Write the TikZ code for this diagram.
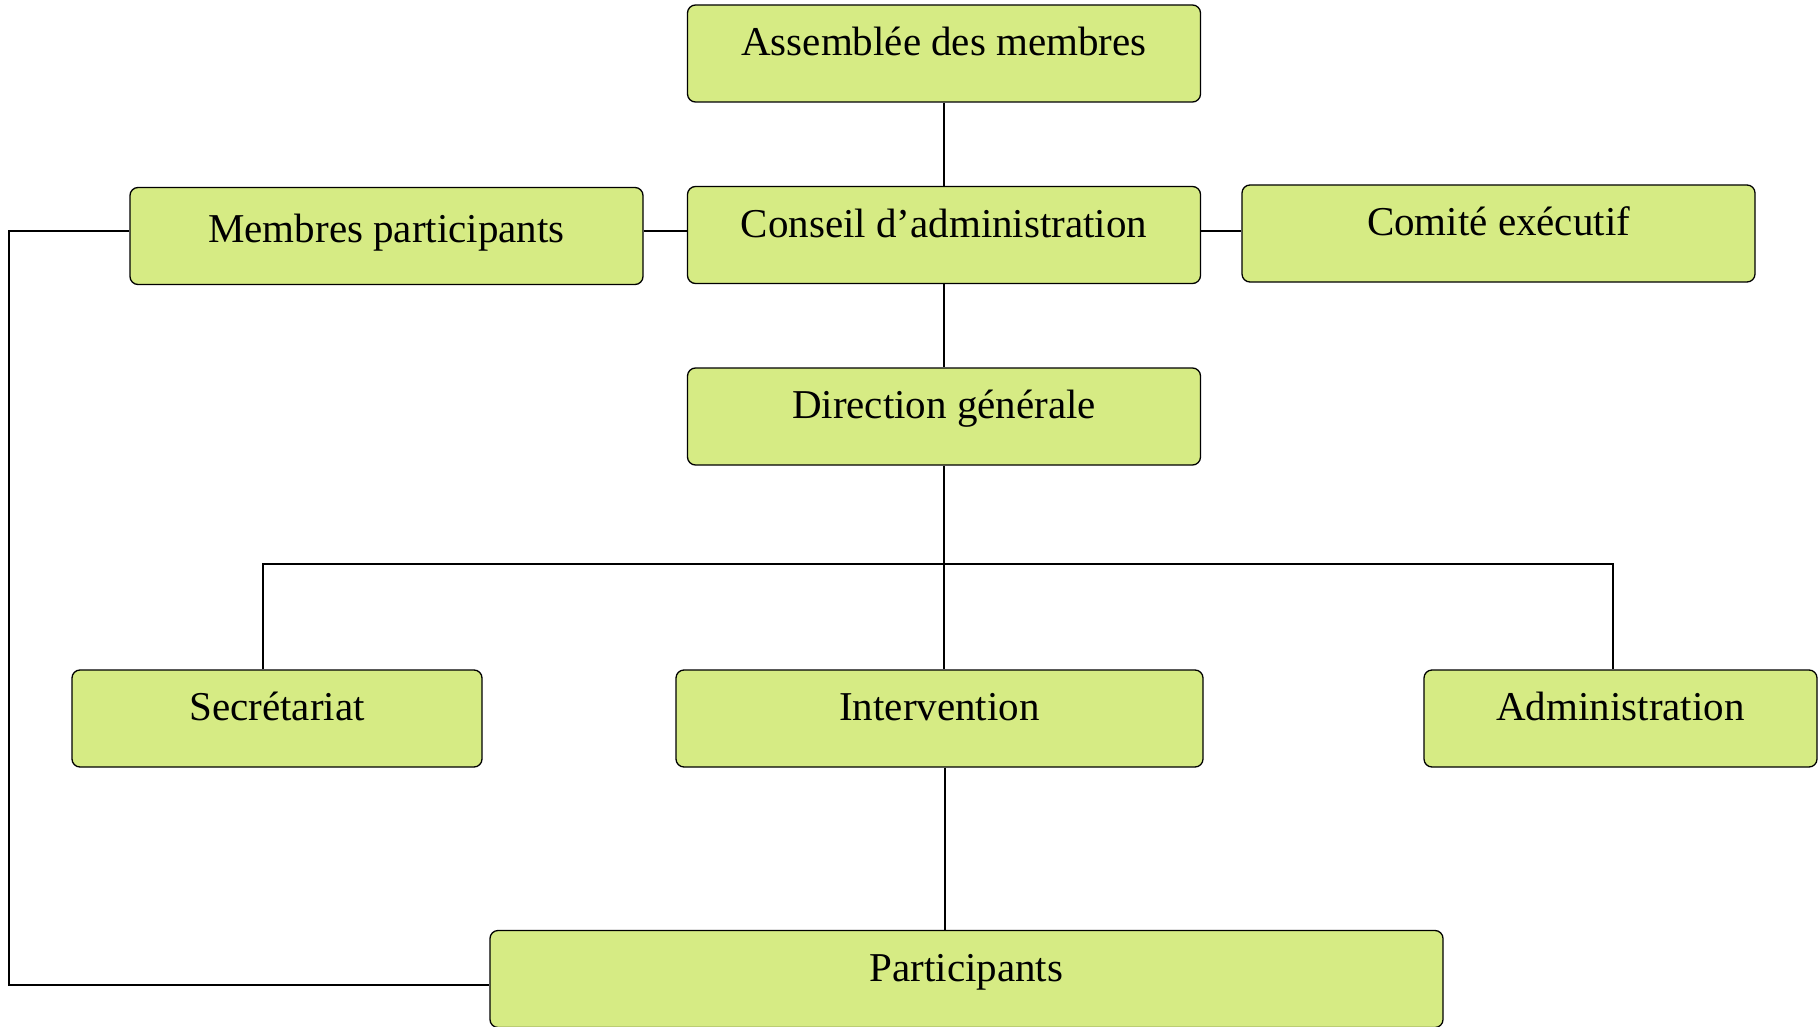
\documentclass[tikz,border=0pt]{standalone}
\usepackage{fontspec}
\setmainfont{Liberation Serif}
\definecolor{boxgreen}{RGB}{214,235,132}

\begin{document}
\begin{tikzpicture}[x=1pt,y=-1pt,
  box/.style={draw, line width=1.3pt, rounded corners=8pt, fill=boxgreen,
    minimum height=97pt, inner sep=0pt, text height=20pt, text depth=16pt,
    font=\fontsize{41}{46}\selectfont},
  link/.style={line width=1.8pt}]
\useasboundingbox (0,0) rectangle (1820,1027);

\node[box, minimum width=513pt] (assemblee) at (944,53.5) {Assemblée des membres};
\node[box, minimum width=513pt] (conseil) at (944,235) {Conseil d’administration};
\node[box, minimum width=513pt, text height=24pt, text depth=12pt] (membres) at (386.5,236) {Membres participants};
\node[box, minimum width=513pt] (comite) at (1498.5,233.5) {Comité exécutif};
\node[box, minimum width=513pt] (direction) at (944,416.5) {Direction générale};

\node[box, minimum width=410pt] (secretariat) at (277,718.5) {Secrétariat};
\node[box, minimum width=527pt] (intervention) at (939.5,718.5) {Intervention};
\node[box, minimum width=393pt] (administration) at (1620.5,718.5) {Administration};

\node[box, minimum width=953pt] (participants) at (966.5,979) {Participants};

\coordinate (bus) at (944,564);

\draw[link] (assemblee.south) -- (conseil.north);
\draw[link] (membres.east |- 0,231) -- (conseil.west |- 0,231);
\draw[link] (conseil.east |- 0,231) -- (comite.west |- 0,231);
\draw[link] (conseil.south) -- (direction.north);
\draw[link] (direction.south) -- (bus);
\draw[link] (bus) -- (intervention.north -| bus);
\draw[link] (secretariat.north -| 263,0) |- (bus) -| (administration.north -| 1613,0);
\draw[link] (intervention.south -| 945,0) -- (participants.north -| 945,0);
\draw[link] (membres.west |- 0,231) -| (9,985) -- (participants.west |- 0,985);
\end{tikzpicture}
\end{document}
